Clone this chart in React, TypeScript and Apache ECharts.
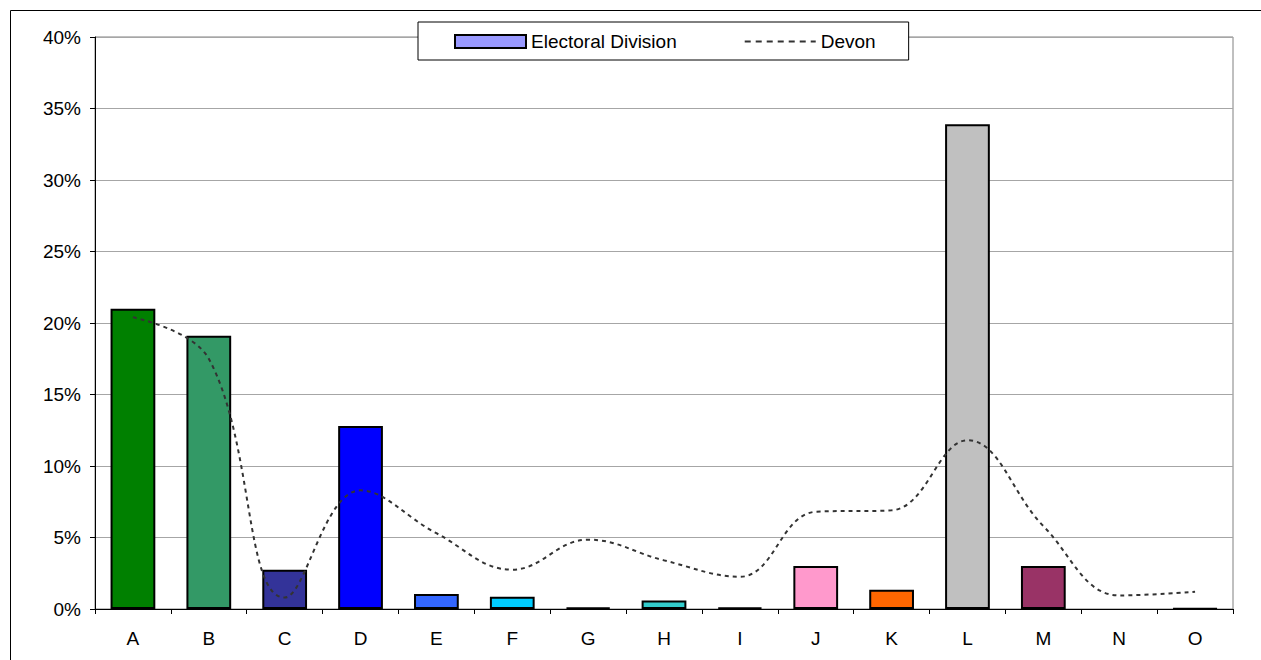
import React, { useEffect, useRef } from "react";
import * as echarts from "echarts";

const categories = ["A", "B", "C", "D", "E", "F", "G", "H", "I", "J", "K", "L", "M", "N", "O"];
const divisionValues = [21.0, 19.1, 2.75, 12.8, 1.05, 0.85, 0.1, 0.6, 0.1, 3.0, 1.35, 33.9, 3.0, 0, 0.05];
const devonValues = [20.4, 17.5, 0.8, 8.3, 5.3, 2.75, 4.85, 3.4, 2.25, 6.8, 6.9, 11.8, 5.8, 0.95, 1.2];
const barColors = [
  "#008000", "#339966", "#333399", "#0000FF", "#3366FF", "#00CCFF", "#000000", "#33CCCC",
  "#000000", "#FF99CC", "#FF6600", "#C0C0C0", "#993366", "#000000", "#000000",
];
const yTicks = { min: 0, max: 40, interval: 5 };

const FONT = "'Liberation Sans', Arial, sans-serif";

export default function App() {
  const ref = useRef<HTMLDivElement>(null);
  useEffect(() => {
    if (!ref.current) return;
    const chart = echarts.init(ref.current, undefined, { renderer: "svg" });
    chart.setOption({
      animation: false,
      backgroundColor: "#ffffff",
      textStyle: { fontFamily: FONT },
      graphic: [
        {
          type: "rect",
          shape: { x: 10.5, y: 10.5, width: 1400, height: 800 },
          style: { fill: "none", stroke: "#000000", lineWidth: 1 },
          z: 0,
          silent: true,
        },
      ],
      grid: {
        left: 95,
        top: 37,
        right: 28,
        bottom: 51,
        show: true,
        borderColor: "#808080",
        borderWidth: 1,
        backgroundColor: "transparent",
      },
      legend: {
        left: 418,
        top: 22,
        padding: [10, 33, 9, 36],
        backgroundColor: "#ffffff",
        borderColor: "#000000",
        borderWidth: 1,
        borderRadius: 0,
        itemWidth: 71,
        itemHeight: 13,
        itemGap: 67,
        textStyle: { fontSize: 19, color: "#000000", fontFamily: FONT },
        data: [
          { name: "Electoral Division", icon: "rect" },
          { name: "Devon", itemStyle: { opacity: 0 }, lineStyle: { type: [6, 5], width: 2, color: "#333333" } },
        ],
      },
      xAxis: {
        type: "category",
        data: categories,
        boundaryGap: true,
        axisLine: { lineStyle: { color: "#000000", width: 1 } },
        axisTick: { show: true, length: 5, inside: false, lineStyle: { color: "#000000" } },
        axisLabel: { color: "#000000", fontSize: 19, margin: 20, fontFamily: FONT },
        splitLine: { show: false },
      },
      yAxis: {
        type: "value",
        min: yTicks.min,
        max: yTicks.max,
        interval: yTicks.interval,
        axisLine: { show: true, lineStyle: { color: "#000000", width: 1 } },
        axisTick: { show: true, length: 5, lineStyle: { color: "#000000" } },
        axisLabel: { color: "#000000", fontSize: 19, margin: 14, formatter: "{value}%", fontFamily: FONT },
        splitLine: { show: true, lineStyle: { color: "#a6a6a6", width: 1 } },
      },
      series: [
        {
          name: "Electoral Division",
          type: "bar",
          barWidth: "59%",
          itemStyle: { color: "#9999FF", borderColor: "#000000", borderWidth: 2 },
          data: divisionValues.map((v, i) => ({
            value: v,
            itemStyle: { color: barColors[i], borderWidth: v === 0 ? 0 : 2, borderColor: "#000000" },
          })),
          z: 2,
        },
        {
          name: "Devon",
          type: "line",
          smooth: 0.4,
          symbol: "none",
          data: devonValues,
          lineStyle: { color: "#333333", width: 2, type: [4, 4] },
          itemStyle: { color: "#333333" },
          z: 3,
        },
      ],
    });
    return () => chart.dispose();
  }, []);
  return (
    <div
      ref={ref}
      style={{ position: "fixed", left: 0, top: 0, width: 1261, height: 660, background: "#fff" }}
    />
  );
}
